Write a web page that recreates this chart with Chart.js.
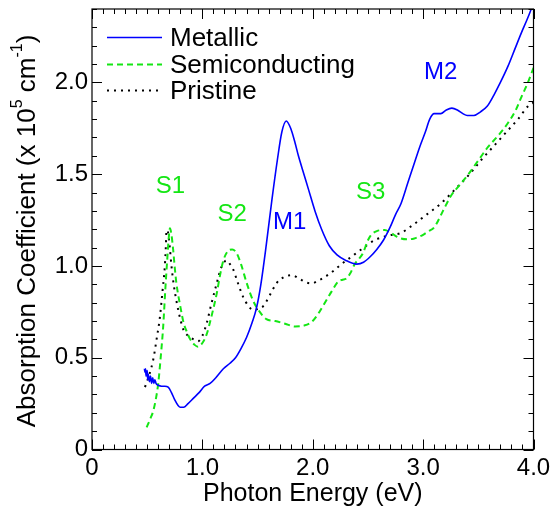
<!DOCTYPE html>
<html>
<head>
<meta charset="utf-8">
<script src="https://cdn.jsdelivr.net/npm/chart.js@4.4.1/dist/chart.umd.min.js"></script>
<style>
  html, body { margin: 0; padding: 0; background: #fff; }
  #wrap { width: 555px; height: 508px; }
</style>
</head>
<body>
<div id="wrap"><canvas id="c" width="555" height="508"></canvas></div>
<script>
// ---- Data ----
const metallicX = [0.475,0.48,0.485,0.49,0.50,0.505,0.51,0.52,0.53,0.54,0.55,0.56,0.57,0.58,0.60,0.63,0.66,0.69,0.72,0.75,0.78,0.80,0.83,0.87,0.92,0.97,1.02,1.07,1.12,1.19,1.25,1.30,1.35,1.40,1.45,1.49,1.53,1.58,1.63,1.68,1.72,1.76,1.80,1.84,1.87,1.92,1.96,2.02,2.08,2.15,2.22,2.30,2.40,2.46,2.52,2.58,2.64,2.70,2.75,2.80,2.86,2.92,2.97,3.02,3.06,3.10,3.16,3.21,3.26,3.31,3.36,3.40,3.46,3.52,3.58,3.64,3.70,3.77,3.83,3.89,3.94,3.98,4.00];
const metallicY = [0.44,0.42,0.44,0.40,0.43,0.38,0.41,0.37,0.40,0.36,0.39,0.36,0.38,0.36,0.35,0.345,0.345,0.34,0.31,0.27,0.24,0.23,0.23,0.25,0.28,0.31,0.345,0.36,0.39,0.44,0.47,0.50,0.55,0.61,0.69,0.77,0.90,1.12,1.36,1.58,1.73,1.79,1.75,1.67,1.60,1.50,1.42,1.30,1.20,1.11,1.06,1.03,1.01,1.02,1.05,1.09,1.14,1.21,1.28,1.34,1.45,1.56,1.65,1.73,1.80,1.83,1.83,1.85,1.86,1.85,1.83,1.82,1.82,1.84,1.87,1.93,2.00,2.09,2.18,2.27,2.34,2.40,2.43];

const semiX = [0.495,0.53,0.555,0.58,0.60,0.625,0.645,0.665,0.68,0.695,0.706,0.72,0.735,0.75,0.765,0.80,0.83,0.86,0.89,0.93,0.96,1.00,1.04,1.08,1.13,1.16,1.19,1.23,1.27,1.31,1.35,1.40,1.46,1.52,1.58,1.66,1.75,1.84,1.92,1.99,2.05,2.11,2.17,2.23,2.27,2.30,2.34,2.38,2.42,2.455,2.50,2.53,2.58,2.65,2.71,2.76,2.80,2.86,2.92,3.00,3.05,3.10,3.18,3.25,3.33,3.41,3.50,3.59,3.68,3.77,3.84,3.89,3.95,4.00];
const semiY = [0.12,0.17,0.21,0.28,0.36,0.52,0.67,0.88,1.02,1.15,1.205,1.17,1.09,0.99,0.905,0.78,0.69,0.64,0.60,0.57,0.56,0.58,0.63,0.72,0.85,0.95,1.03,1.08,1.09,1.07,1.01,0.91,0.81,0.75,0.71,0.70,0.685,0.67,0.675,0.695,0.74,0.80,0.86,0.915,0.925,0.93,0.96,1.01,1.04,1.07,1.14,1.17,1.19,1.196,1.18,1.16,1.15,1.145,1.15,1.17,1.19,1.21,1.30,1.38,1.44,1.50,1.575,1.65,1.71,1.78,1.85,1.92,2.00,2.08];

const pristX = [0.48,0.52,0.555,0.585,0.615,0.64,0.66,0.67,0.675,0.69,0.705,0.72,0.74,0.765,0.80,0.83,0.87,0.92,0.96,1.00,1.04,1.08,1.13,1.17,1.22,1.25,1.28,1.32,1.37,1.42,1.46,1.50,1.55,1.61,1.67,1.74,1.81,1.88,1.94,1.99,2.05,2.11,2.18,2.26,2.35,2.44,2.56,2.68,2.80,2.90,3.01,3.16,3.31,3.42,3.53,3.62,3.71,3.80,3.86,3.95,4.00];
const pristY = [0.34,0.41,0.49,0.60,0.72,0.87,1.00,1.12,1.195,1.18,1.10,1.00,0.90,0.81,0.71,0.65,0.62,0.60,0.59,0.62,0.69,0.79,0.905,0.99,1.03,1.01,0.98,0.91,0.83,0.78,0.76,0.765,0.78,0.84,0.905,0.94,0.95,0.93,0.91,0.905,0.92,0.94,0.97,1.01,1.05,1.09,1.14,1.165,1.18,1.22,1.27,1.34,1.43,1.50,1.58,1.64,1.70,1.76,1.80,1.87,1.89];

const seriesNames = ['Metallic', 'Semiconducting', 'Pristine'];
const xTickValues = [0, 1, 2, 3, 4];
const yTickValues = [0, 0.5, 1.0, 1.5, 2.0];
const peakLabels = ['S1', 'S2', 'M1', 'S3', 'M2'];
const peakX = [0.71, 1.27, 1.79, 2.525, 3.16];
const peakY = [1.435, 1.283, 1.24, 1.40, 2.055];

const BLUE = '#0000ff';
const GREEN = '#14e614';
const FONT = '"Liberation Sans", Arial, Helvetica, sans-serif';

function pts(xs, ys) { return xs.map((x, i) => ({ x: x, y: ys[i] })); }
function fmt(v) { return v === 0 ? '0' : v.toFixed(1); }

const peakColors = [GREEN, GREEN, BLUE, GREEN, BLUE];

const decorPlugin = {
  id: 'decor',
  afterDatasetsDraw(chart) {
    const ctx = chart.ctx;
    const xs = chart.scales.x, ys = chart.scales.y;
    const a = chart.chartArea;
    ctx.save();
    // frame
    ctx.strokeStyle = '#000';
    ctx.lineWidth = 1.2;
    ctx.strokeRect(a.left, a.top, a.right - a.left, a.bottom - a.top);
    // inward ticks on all four sides
    ctx.lineWidth = 1;
    ctx.beginPath();
    for (let i = 0; i <= 40; i++) {
      const v = i / 10;
      const p = Math.round(xs.getPixelForValue(v)) + 0.5;
      const len = (i % 10 === 0) ? 10 : 5;
      ctx.moveTo(p, a.bottom); ctx.lineTo(p, a.bottom - len);
      ctx.moveTo(p, a.top); ctx.lineTo(p, a.top + len);
    }
    for (let i = 0; i <= 24; i++) {
      const v = i / 10;
      const p = Math.round(ys.getPixelForValue(v)) + 0.5;
      const len = (i % 5 === 0) ? 10 : 5;
      ctx.moveTo(a.left, p); ctx.lineTo(a.left + len, p);
      ctx.moveTo(a.right, p); ctx.lineTo(a.right - len, p);
    }
    ctx.stroke();

    // peak labels
    ctx.font = '24px ' + FONT;
    ctx.textAlign = 'center';
    ctx.textBaseline = 'middle';
    peakLabels.forEach((t, i) => {
      ctx.fillStyle = peakColors[i];
      ctx.fillText(t, xs.getPixelForValue(peakX[i]), ys.getPixelForValue(peakY[i]));
    });

    // legend
    const rowsY = [37, 64, 90];
    chart.data.datasets.forEach((ds, i) => {
      ctx.beginPath();
      ctx.strokeStyle = ds.borderColor;
      ctx.lineWidth = ds.borderWidth;
      ctx.setLineDash(ds.borderDash || []);
      ctx.moveTo(107, rowsY[i] + 0.5); ctx.lineTo(162, rowsY[i] + 0.5);
      ctx.stroke();
      ctx.setLineDash([]);
      ctx.fillStyle = '#000';
      ctx.textAlign = 'left';
      ctx.font = '26px ' + FONT;
      ctx.fillText(ds.label, 170, rowsY[i] + 2);
    });

    // x axis title
    ctx.fillStyle = '#000';
    ctx.textAlign = 'center';
    ctx.font = '25px ' + FONT;
    ctx.fillText('Photon Energy (eV)', (a.left + a.right) / 2, 494);

    // y axis title with superscripts
    const big = '26px ' + FONT, small = '16px ' + FONT;
    const parts = [
      ['Absorption Coefficient (x 10', big, 0],
      ['5', small, -10],
      [' cm', big, 0],
      ['-1', small, -10],
      [')', big, 0]
    ];
    let total = 0;
    parts.forEach(p => { ctx.font = p[1]; total += ctx.measureText(p[0]).width; });
    ctx.translate(28, 231);
    ctx.rotate(-Math.PI / 2);
    ctx.textAlign = 'left';
    let x = -total / 2;
    parts.forEach(p => {
      ctx.font = p[1];
      ctx.fillText(p[0], x, p[2]);
      x += ctx.measureText(p[0]).width;
    });
    ctx.restore();
  }
};

new Chart(document.getElementById('c'), {
  type: 'line',
  data: {
    datasets: [
      { label: seriesNames[0], data: pts(metallicX, metallicY), borderColor: BLUE, borderWidth: 1.6, pointRadius: 0, fill: false, cubicInterpolationMode: 'monotone' },
      { label: seriesNames[1], data: pts(semiX, semiY), borderColor: GREEN, borderWidth: 2, borderDash: [6, 4], pointRadius: 0, fill: false, cubicInterpolationMode: 'monotone' },
      { label: seriesNames[2], data: pts(pristX, pristY), borderColor: '#000', borderWidth: 2, borderDash: [2, 5], pointRadius: 0, fill: false, cubicInterpolationMode: 'monotone' }
    ]
  },
  options: {
    responsive: false,
    animation: false,
    devicePixelRatio: 1,
    layout: { padding: { top: 9, right: 21.5, left: 0, bottom: 0 } },
    plugins: { legend: { display: false }, tooltip: { enabled: false }, title: { display: false } },
    scales: {
      x: {
        type: 'linear', min: 0, max: 4,
        grid: { display: false, drawTicks: false },
        border: { display: false },
        afterFit(s) { s.height = 58.5; s.paddingLeft = 0; s.paddingRight = 0; },
        afterBuildTicks(s) { s.ticks = xTickValues.map(v => ({ value: v })); },
        ticks: { padding: 4, color: '#000', font: { size: 24, family: FONT }, maxRotation: 0, autoSkip: false, callback: v => fmt(v) }
      },
      y: {
        type: 'linear', min: 0, max: 2.4,
        grid: { display: false, drawTicks: false },
        border: { display: false },
        afterFit(s) { s.width = 92; s.paddingTop = 0; s.paddingBottom = 0; },
        afterBuildTicks(s) { s.ticks = yTickValues.map(v => ({ value: v })); },
        ticks: { padding: 4, color: '#000', font: { size: 24, family: FONT }, autoSkip: false, callback: v => fmt(v) }
      }
    }
  },
  plugins: [decorPlugin]
});
</script>
</body>
</html>
